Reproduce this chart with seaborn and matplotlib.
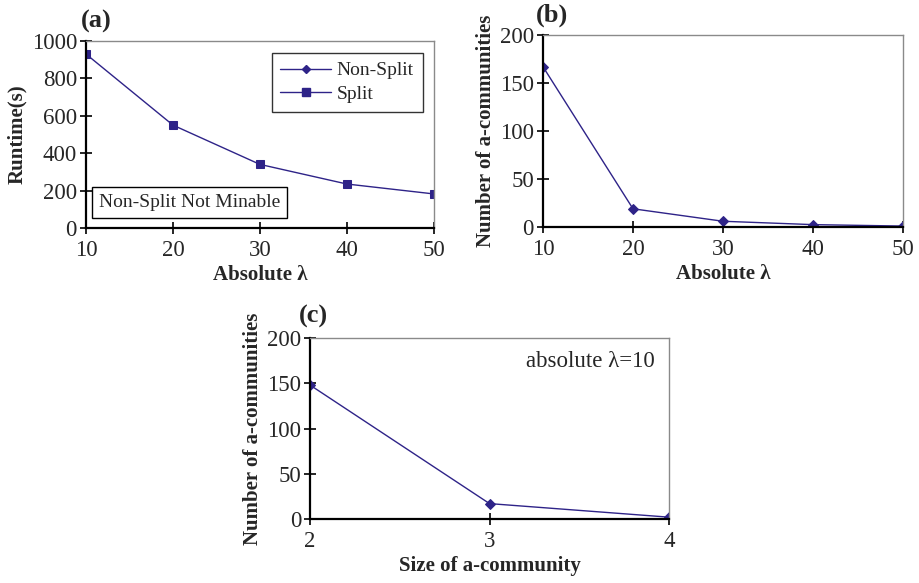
import matplotlib
matplotlib.use("Agg")
import pandas as pd
import seaborn as sns
import matplotlib.pyplot as plt
from matplotlib.lines import Line2D

# Dados
lambda_abs = [10, 20, 30, 40, 50]
runtime_split = [930, 550, 340, 235, 182]
comunidades_lambda = [167, 19, 6, 2.5, 1]
tamanho = [2, 3, 4]
comunidades_tamanho = [148, 17, 2]

cor = "#2E2388"

sns.set_theme(style="white")
plt.rcParams["font.family"] = ["Liberation Serif", "DejaVu Serif"]

fig = plt.figure(figsize=(9.2, 5.83), dpi=100)
ax_a = fig.add_axes([0.0935, 0.609, 0.378, 0.3207])
ax_b = fig.add_axes([0.5902, 0.6106, 0.3913, 0.3293])
ax_c = fig.add_axes([0.337, 0.1098, 0.3902, 0.3104])


def estilo(ax, xlabel, ylabel, letra, letra_xy):
    for lado in ["top", "right"]:
        ax.spines[lado].set_color("#8a8a8a")
        ax.spines[lado].set_linewidth(1.0)
    for lado in ["left", "bottom"]:
        ax.spines[lado].set_color("black")
        ax.spines[lado].set_linewidth(1.6)
    ax.tick_params(axis="both", direction="inout", length=9, width=1.2,
                   color="black", labelsize=16.5, left=True, bottom=True)
    ax.tick_params(axis="x", pad=4)
    ax.tick_params(axis="y", pad=2)
    ax.set_xlabel(xlabel, fontsize=15, fontweight="bold", labelpad=3)
    ax.set_ylabel(ylabel, fontsize=15, fontweight="bold", labelpad=3)
    ax.grid(False)
    fig.text(letra_xy[0], letra_xy[1], letra, fontsize=19, fontweight="bold",
             ha="left", va="center")


# (a)
df_a = pd.DataFrame({"lambda": lambda_abs, "runtime": runtime_split})
sns.lineplot(data=df_a, x="lambda", y="runtime", ax=ax_a, color=cor,
             marker="s", markersize=5.5, markeredgecolor=cor, linewidth=1)
ax_a.set_xlim(10, 50)
ax_a.set_ylim(0, 1000)
ax_a.set_xticks(lambda_abs)
ax_a.set_yticks([0, 200, 400, 600, 800, 1000])
estilo(ax_a, "Absolute λ", "Runtime(s)", "(a)", (0.088, 0.963))
handles = [
    Line2D([], [], color=cor, marker="D", markersize=4.5, linewidth=1),
    Line2D([], [], color=cor, marker="s", markersize=5.5, linewidth=1),
]
leg = ax_a.legend(handles, ["Non-Split", "Split"], loc="upper right",
                  bbox_to_anchor=(0.968, 0.936), borderaxespad=0,
                  fontsize=14, frameon=True, fancybox=False,
                  edgecolor="black", handlelength=2.6, borderpad=0.45,
                  labelspacing=0.3, handletextpad=0.3)
leg.get_frame().set_linewidth(1.0)
ax_a.text(0.297, 0.136, "Non-Split Not Minable", transform=ax_a.transAxes,
          fontsize=14, ha="center", va="center",
          bbox=dict(boxstyle="square,pad=0.35", facecolor="white",
                    edgecolor="black", linewidth=1.0))

# (b)
df_b = pd.DataFrame({"lambda": lambda_abs, "n": comunidades_lambda})
sns.lineplot(data=df_b, x="lambda", y="n", ax=ax_b, color=cor,
             marker="D", markersize=5.5, markeredgecolor=cor, linewidth=1)
ax_b.set_xlim(10, 50)
ax_b.set_ylim(0, 200)
ax_b.set_xticks(lambda_abs)
ax_b.set_yticks([0, 50, 100, 150, 200])
estilo(ax_b, "Absolute λ", "Number of a-communities", "(b)", (0.583, 0.973))

# (c)
df_c = pd.DataFrame({"tamanho": tamanho, "n": comunidades_tamanho})
sns.lineplot(data=df_c, x="tamanho", y="n", ax=ax_c, color=cor,
             marker="D", markersize=5.5, markeredgecolor=cor, linewidth=1)
ax_c.set_xlim(2, 4)
ax_c.set_ylim(0, 200)
ax_c.set_xticks(tamanho)
ax_c.set_yticks([0, 50, 100, 150, 200])
estilo(ax_c, "Size of a-community", "Number of a-communities", "(c)",
       (0.325, 0.458))
ax_c.text(0.96, 0.87, "absolute λ=10", transform=ax_c.transAxes,
          fontsize=16.5, ha="right", va="center")

fig.savefig("out.png", dpi=100)
